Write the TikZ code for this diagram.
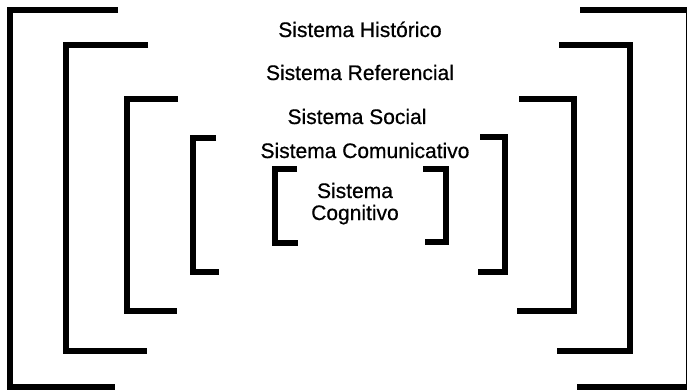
\documentclass[tikz,border=0pt]{standalone}
\usepackage{fontspec}
\setmainfont[FakeBold=0.6]{Liberation Sans}
\begin{document}
\begin{tikzpicture}[x=1pt,y=-1pt,
  bracket/.style={line width=5.5pt},
  sistema/.style={anchor=base, align=center, font=\fontsize{21}{22}\selectfont}]
\useasboundingbox (0,0) rectangle (687,390);
\clip (0,0) rectangle (687,390);
% historico
\draw[bracket] (118,10) -- (10,10) -- (10,387) -- (115,387);
\draw[bracket] (580,10) -- (689,10) -- (689,387) -- (577,387);
% referencial
\draw[bracket] (148,45) -- (66,45) -- (66,351) -- (147,351);
\draw[bracket] (559,45) -- (630,45) -- (630,351) -- (557,351);
% social
\draw[bracket] (178,99) -- (127,99) -- (127,311) -- (177,311);
\draw[bracket] (519,99) -- (574,99) -- (574,311) -- (517,311);
% comunicativo
\draw[bracket] (216,138) -- (193,138) -- (193,272) -- (219,272);
\draw[bracket] (480,137) -- (505,137) -- (505,272) -- (478,272);
% cognitivo
\draw[bracket] (297,169) -- (275,169) -- (275,243) -- (298,243);
\draw[bracket] (423,169) -- (446,169) -- (446,242) -- (425,242);
\node[sistema] (historico) at (360,37) {Sistema Histórico};
\node[sistema] (referencial) at (360,80) {Sistema Referencial};
\node[sistema] (social) at (357,124) {Sistema Social};
\node[sistema] (comunicativo) at (365,158) {Sistema Comunicativo};
\node[sistema] (cognitivo) at (355,220) {Sistema\\Cognitivo};
\end{tikzpicture}
\end{document}
